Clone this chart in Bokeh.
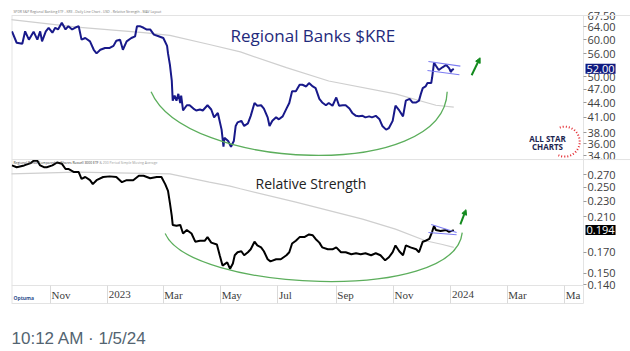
import pandas as pd
from bokeh.plotting import figure
from bokeh.models import (Range1d, FixedTicker, PrintfTickFormatter, Label, LabelSet,
                          Arrow, NormalHead, LogAxis, DatetimeAxis, LogScale, Span,
                          ColumnDataSource)
from bokeh.embed import file_html
from bokeh.resources import INLINE

# ---------------- data ----------------
kre_dates = ["2022-09-21", "2022-09-26", "2022-10-02", "2022-10-05", "2022-10-09", "2022-10-14",
             "2022-10-18", "2022-10-21", "2022-10-23", "2022-10-27", "2022-10-30", "2022-11-03",
             "2022-11-06", "2022-11-09", "2022-11-13", "2022-11-17", "2022-11-20", "2022-11-24",
             "2022-11-27", "2022-12-01", "2022-12-04", "2022-12-08", "2022-12-13", "2022-12-17",
             "2022-12-20", "2022-12-24", "2022-12-29", "2023-01-03", "2023-01-07", "2023-01-10",
             "2023-01-14", "2023-01-17", "2023-01-21", "2023-01-26", "2023-01-30", "2023-02-01",
             "2023-02-04", "2023-02-08", "2023-02-11", "2023-02-15", "2023-02-19", "2023-02-24",
             "2023-03-01", "2023-03-05", "2023-03-06", "2023-03-08", "2023-03-10", "2023-03-11",
             "2023-03-13", "2023-03-15", "2023-03-17", "2023-03-19", "2023-03-20", "2023-03-22",
             "2023-03-26", "2023-03-29", "2023-04-02", "2023-04-05", "2023-04-09", "2023-04-12",
             "2023-04-17", "2023-04-21", "2023-04-24", "2023-04-28", "2023-05-02", "2023-05-04",
             "2023-05-05", "2023-05-09", "2023-05-12", "2023-05-15", "2023-05-17", "2023-05-19",
             "2023-05-23", "2023-05-26", "2023-05-30", "2023-06-02", "2023-06-06", "2023-06-09",
             "2023-06-13", "2023-06-16", "2023-06-20", "2023-06-22", "2023-06-25", "2023-06-29",
             "2023-07-02", "2023-07-06", "2023-07-10", "2023-07-13", "2023-07-16", "2023-07-20",
             "2023-07-24", "2023-07-27", "2023-07-31", "2023-08-03", "2023-08-07", "2023-08-10",
             "2023-08-14", "2023-08-17", "2023-08-21", "2023-08-24", "2023-08-28", "2023-09-01",
             "2023-09-04", "2023-09-08", "2023-09-11", "2023-09-15", "2023-09-18", "2023-09-22",
             "2023-09-25", "2023-09-29", "2023-10-02", "2023-10-06", "2023-10-09", "2023-10-13",
             "2023-10-17", "2023-10-20", "2023-10-24", "2023-10-27", "2023-10-31", "2023-11-02",
             "2023-11-03", "2023-11-07", "2023-11-11", "2023-11-14", "2023-11-18", "2023-11-21",
             "2023-11-25", "2023-11-28", "2023-11-30", "2023-12-02", "2023-12-05", "2023-12-07",
             "2023-12-11", "2023-12-12", "2023-12-14", "2023-12-16", "2023-12-19", "2023-12-23",
             "2023-12-27", "2023-12-30", "2024-01-01", "2024-01-02", "2024-01-04"]
kre_close = [62.5, 59.1, 58.8, 62.5, 60.0, 62.4,
             60.0, 62.5, 59.5, 62.5, 63.6, 62.1,
             63.6, 63.1, 65.2, 63.1, 64.1, 63.1,
             63.6, 64.1, 60.0, 60.5, 59.5, 57.1,
             56.1, 57.1, 57.6, 57.6, 58.2, 59.7,
             60.0, 57.1, 59.5, 60.5, 61.0, 64.1,
             64.1, 63.6, 63.1, 63.1, 61.5, 61.0,
             60.5, 58.2, 56.1, 53.1, 49.1, 44.5,
             45.6, 44.5, 46.0, 44.0, 45.6, 42.4,
             43.5, 43.5, 42.8, 42.4, 42.6, 42.4,
             43.5, 42.6, 41.0, 41.9, 38.6, 35.5,
             37.1, 36.5, 35.5, 36.5, 39.3, 40.0,
             40.3, 39.3, 39.8, 41.3, 44.0, 43.4,
             43.5, 42.8, 41.0, 39.3, 40.3, 41.0,
             40.6, 41.2, 42.8, 44.0, 46.6, 46.6,
             48.1, 48.1, 47.7, 48.5, 47.7, 47.3,
             44.9, 44.1, 43.5, 44.0, 43.4, 45.2,
             43.4, 43.5, 43.5, 42.8, 41.9, 41.3,
             41.2, 41.3, 41.0, 41.2, 41.0, 41.3,
             40.6, 39.3, 38.6, 38.9, 40.3, 42.4,
             43.4, 42.4, 41.2, 44.5, 44.9, 44.1,
             44.1, 44.5, 46.0, 47.3, 47.7, 48.5,
             48.5, 49.9, 53.6, 52.8, 51.7, 52.4,
             53.0, 52.2, 51.2, 51.7, 52.0]

kre_ma_dates = ["2022-09-20", "2022-11-29", "2023-02-08", "2023-03-08", "2023-04-19", "2023-05-22",
                "2023-07-10", "2023-08-24", "2023-11-03", "2023-12-16", "2024-01-04"]
kre_ma = [66.2, 63.8, 62.1, 61.3, 58.6, 56.5, 52.3, 49.0, 46.0, 43.5, 43.1]

rs_dates = ["2022-09-21", "2022-09-26", "2022-10-04", "2022-10-11", "2022-10-14", "2022-10-18",
            "2022-10-21", "2022-10-25", "2022-10-28", "2022-11-03", "2022-11-08", "2022-11-13",
            "2022-11-17", "2022-11-20", "2022-11-26", "2022-12-01", "2022-12-04", "2022-12-08",
            "2022-12-13", "2022-12-16", "2022-12-20", "2022-12-27", "2023-01-03", "2023-01-10",
            "2023-01-16", "2023-01-21", "2023-01-28", "2023-02-03", "2023-02-08", "2023-02-15",
            "2023-02-22", "2023-02-27", "2023-03-03", "2023-03-06", "2023-03-08", "2023-03-10",
            "2023-03-11", "2023-03-15", "2023-03-19", "2023-03-22", "2023-03-26", "2023-03-31",
            "2023-04-04", "2023-04-09", "2023-04-14", "2023-04-17", "2023-04-21", "2023-04-27",
            "2023-04-30", "2023-05-03", "2023-05-08", "2023-05-11", "2023-05-14", "2023-05-16",
            "2023-05-19", "2023-05-23", "2023-05-26", "2023-05-30", "2023-06-02", "2023-06-06",
            "2023-06-09", "2023-06-13", "2023-06-16", "2023-06-20", "2023-06-23", "2023-06-29",
            "2023-07-04", "2023-07-10", "2023-07-13", "2023-07-16", "2023-07-20", "2023-07-24",
            "2023-07-29", "2023-08-03", "2023-08-07", "2023-08-10", "2023-08-14", "2023-08-17",
            "2023-08-23", "2023-08-28", "2023-09-01", "2023-09-06", "2023-09-11", "2023-09-17",
            "2023-09-22", "2023-09-27", "2023-10-02", "2023-10-08", "2023-10-13", "2023-10-18",
            "2023-10-23", "2023-10-27", "2023-10-31", "2023-11-03", "2023-11-07", "2023-11-11",
            "2023-11-14", "2023-11-19", "2023-11-25", "2023-11-28", "2023-12-02", "2023-12-05",
            "2023-12-09", "2023-12-12", "2023-12-14", "2023-12-16", "2023-12-21", "2023-12-27",
            "2023-12-30", "2024-01-02", "2024-01-04"]
rs_values = [0.285, 0.282, 0.285, 0.289, 0.293, 0.293,
             0.285, 0.282, 0.282, 0.285, 0.290, 0.288,
             0.279, 0.279, 0.274, 0.274, 0.263, 0.266,
             0.261, 0.255, 0.261, 0.266, 0.267, 0.266,
             0.258, 0.261, 0.261, 0.268, 0.268, 0.264,
             0.266, 0.266, 0.255, 0.245, 0.228, 0.211,
             0.200, 0.199, 0.200, 0.190, 0.194, 0.190,
             0.181, 0.182, 0.182, 0.186, 0.180, 0.178,
             0.167, 0.157, 0.160, 0.154, 0.159, 0.167,
             0.170, 0.171, 0.167, 0.170, 0.173, 0.181,
             0.177, 0.175, 0.171, 0.163, 0.161, 0.163,
             0.163, 0.167, 0.170, 0.179, 0.182, 0.186,
             0.186, 0.189, 0.188, 0.184, 0.180, 0.175,
             0.173, 0.173, 0.175, 0.170, 0.170, 0.168,
             0.169, 0.168, 0.169, 0.167, 0.169, 0.167,
             0.162, 0.165, 0.170, 0.177, 0.171, 0.167,
             0.177, 0.175, 0.173, 0.170, 0.181, 0.182,
             0.184, 0.192, 0.199, 0.194, 0.193, 0.194,
             0.192, 0.193, 0.194]

rs_ma_dates = ["2022-09-20", "2022-11-29", "2023-03-08", "2023-04-19", "2023-05-11", "2023-05-22",
               "2023-07-20", "2023-09-29", "2023-11-03", "2023-12-05", "2023-12-23", "2024-01-04"]
rs_ma = [0.271, 0.274, 0.271, 0.258, 0.252, 0.248, 0.229, 0.207, 0.195, 0.182, 0.178, 0.175]

kre_ticks = [34, 36, 38, 41, 44, 47, 50, 56, 60, 64, 67.5]
rs_ticks = [0.14, 0.15, 0.17, 0.21, 0.23, 0.25, 0.27]
x_tick_dates = ["2022-11-01", "2023-01-01", "2023-03-01", "2023-05-01", "2023-07-01",
                "2023-09-01", "2023-11-01", "2024-01-01", "2024-03-01", "2024-05-01"]
x_tick_labels = ["Nov", "2023", "Mar", "May", "Jul", "Sep", "Nov", "2024", "Mar", "Ma"]

kre_last, rs_last = 52.00, 0.194

# annotations drawn on the chart (cups, flags, arrows), in data terms
kre_cup = dict(start=("2023-02-16", 46.5), c1=("2023-03-24", 31.6), c2=("2023-12-25", 29.8), end=("2023-12-28", 46.5))
rs_cup = dict(start=("2023-03-03", 0.190), c1=("2023-03-29", 0.1353), c2=("2024-01-05", 0.1245), end=("2024-01-13", 0.191))
kre_flag = [(("2023-12-08", 53.9), ("2024-01-11", 52.7)), (("2023-12-07", 51.6), ("2024-01-10", 50.5))]
rs_flag = [(("2023-12-11", 0.2006), ("2024-01-07", 0.1912)), (("2023-12-08", 0.1912), ("2024-01-07", 0.1886))]
kre_arrow = (("2024-01-23", 50.4), ("2024-02-01", 54.9))
rs_arrow = (("2024-01-11", 0.2006), ("2024-01-17", 0.219))
logo_center = ("2024-05-01", 36.4)

# ---------------- layout constants ----------------
X_START, X_AXIS, X_END = "2022-09-20 12:00", "2024-05-21", "2024-07-10"
KRE_VIEW = (13.01, 72.70)       # whole canvas height, log scale
KRE_PANEL = (33.34, 67.55)      # top panel
RS_VIEW = (0.09415, 0.7606)
RS_PANEL = (0.1394, 0.2952)     # bottom panel
RS_STRIP_BOTTOM = 0.1253        # bottom of the date strip


def ms(d):
    return pd.Timestamp(d).value / 1e6


NAVY = "#18198a"
GREEN_CUP = "#5cae5c"
GREEN_ARROW = "#138a1e"
FLAG = "#7c7cf2"
MA_GRAY = "#cfcfcf"
EDGE = "#e3e3e3"
AXIS_FONT = "Open Sans"

p = figure(width=630, height=351, x_axis_type="datetime", y_axis_type="log",
           x_range=Range1d(ms(X_START), ms(X_END)), y_range=Range1d(*KRE_VIEW),
           x_axis_location=None, y_axis_location=None,
           output_backend="svg", toolbar_location=None,
           min_border=0, min_border_left=11, min_border_right=0,
           min_border_top=0, min_border_bottom=0)
p.extra_y_ranges = {"rs": Range1d(*RS_VIEW)}
p.extra_y_scales = {"rs": LogScale()}
p.xgrid.visible = False
p.ygrid.visible = False
p.outline_line_color = None
p.background_fill_color = "white"
p.border_fill_color = "white"


def style_right_axis(ax):
    ax.axis_line_color = EDGE
    ax.major_tick_line_color = "#9a9a9a"
    ax.major_tick_out = 3
    ax.major_tick_in = 0
    ax.minor_tick_line_color = None
    ax.major_label_standoff = 1
    ax.major_label_text_font = AXIS_FONT
    ax.major_label_text_font_size = "11px"
    ax.major_label_text_color = "#404040"


kre_axis = LogAxis(ticker=FixedTicker(ticks=kre_ticks), formatter=PrintfTickFormatter(format="%.2f"),
                   fixed_location=ms(X_AXIS), bounds=KRE_PANEL)
style_right_axis(kre_axis)
p.add_layout(kre_axis, "right")
rs_axis = LogAxis(y_range_name="rs", ticker=FixedTicker(ticks=rs_ticks),
                  formatter=PrintfTickFormatter(format="%.3f"),
                  fixed_location=ms(X_AXIS), bounds=RS_PANEL)
style_right_axis(rs_axis)
p.add_layout(rs_axis, "right")

tick_ms = [ms(d) for d in x_tick_dates]
date_axis = DatetimeAxis(y_range_name="rs", fixed_location=RS_PANEL[0],
                         ticker=FixedTicker(ticks=tick_ms), bounds=(ms(X_START), ms(X_AXIS)))
date_axis.axis_line_color = EDGE
date_axis.major_tick_line_color = "#dadada"
date_axis.major_tick_out = 18
date_axis.major_tick_in = 0
date_axis.minor_tick_line_color = None
date_axis.major_label_text_color = None
p.add_layout(date_axis, "below")

p.add_layout(LabelSet(x="x", y=57, y_units="screen", text="text", x_offset=1,
                      source=ColumnDataSource(dict(x=tick_ms, text=x_tick_labels)),
                      text_font=AXIS_FONT, text_font_size="11px", text_color="#404040",
                      text_align="left", text_baseline="middle"))

# panel frame lines
p.add_layout(Span(location=KRE_PANEL[1], dimension="width", line_color=EDGE, line_width=1))
p.add_layout(Span(location=KRE_PANEL[0], dimension="width", line_color=EDGE, line_width=1))
p.segment(x0=[ms(X_START)], y0=[RS_STRIP_BOTTOM], x1=[ms(X_AXIS)], y1=[RS_STRIP_BOTTOM],
          y_range_name="rs", line_color=EDGE, line_width=1)
p.segment(x0=[ms(X_START)], y0=[KRE_PANEL[0]], x1=[ms(X_START)], y1=[KRE_PANEL[1]],
          line_color=EDGE, line_width=2)
p.segment(x0=[ms(X_START)], y0=[RS_STRIP_BOTTOM], x1=[ms(X_START)], y1=[RS_PANEL[1]],
          y_range_name="rs", line_color=EDGE, line_width=2)
p.segment(x0=[ms(X_AXIS)], y0=[RS_STRIP_BOTTOM], x1=[ms(X_AXIS)], y1=[RS_PANEL[0]],
          y_range_name="rs", line_color=EDGE, line_width=1)

# ---- top panel: KRE ----
p.line(pd.to_datetime(kre_ma_dates), kre_ma, line_color=MA_GRAY, line_width=1.2)
p.line(pd.to_datetime(kre_dates), kre_close, line_color=NAVY, line_width=2)
p.bezier(x0=[ms(kre_cup["start"][0])], y0=[kre_cup["start"][1]],
         x1=[ms(kre_cup["end"][0])], y1=[kre_cup["end"][1]],
         cx0=[ms(kre_cup["c1"][0])], cy0=[kre_cup["c1"][1]],
         cx1=[ms(kre_cup["c2"][0])], cy1=[kre_cup["c2"][1]],
         line_color=GREEN_CUP, line_width=1.3)
p.segment(x0=[ms(a[0]) for a, b in kre_flag], y0=[a[1] for a, b in kre_flag],
          x1=[ms(b[0]) for a, b in kre_flag], y1=[b[1] for a, b in kre_flag],
          line_color=FLAG, line_width=1.1)
p.add_layout(Arrow(end=NormalHead(size=5, fill_color=GREEN_ARROW, line_color=GREEN_ARROW),
                   x_start=ms(kre_arrow[0][0]), y_start=kre_arrow[0][1],
                   x_end=ms(kre_arrow[1][0]), y_end=kre_arrow[1][1],
                   line_color=GREEN_ARROW, line_width=2))
p.arc(x=[ms(logo_center[0])], y=[logo_center[1]], radius=15, radius_units="screen",
      start_angle=-2.0, end_angle=2.0, line_color="#e3262c", line_width=2, line_dash="1 2")

# ---- bottom panel: relative strength ----
p.line(pd.to_datetime(rs_ma_dates), rs_ma, y_range_name="rs", line_color=MA_GRAY, line_width=1.2)
p.line(pd.to_datetime(rs_dates), rs_values, y_range_name="rs", line_color="black", line_width=2)
p.bezier(x0=[ms(rs_cup["start"][0])], y0=[rs_cup["start"][1]],
         x1=[ms(rs_cup["end"][0])], y1=[rs_cup["end"][1]],
         cx0=[ms(rs_cup["c1"][0])], cy0=[rs_cup["c1"][1]],
         cx1=[ms(rs_cup["c2"][0])], cy1=[rs_cup["c2"][1]],
         y_range_name="rs", line_color=GREEN_CUP, line_width=1.3)
p.segment(x0=[ms(a[0]) for a, b in rs_flag], y0=[a[1] for a, b in rs_flag],
          x1=[ms(b[0]) for a, b in rs_flag], y1=[b[1] for a, b in rs_flag],
          y_range_name="rs", line_color=FLAG, line_width=1.1)
p.add_layout(Arrow(end=NormalHead(size=5, fill_color=GREEN_ARROW, line_color=GREEN_ARROW),
                   x_start=ms(rs_arrow[0][0]), y_start=rs_arrow[0][1],
                   x_end=ms(rs_arrow[1][0]), y_end=rs_arrow[1][1], y_range_name="rs",
                   line_color=GREEN_ARROW, line_width=2))

# ---- texts ----
def add_label(text, x, y, size, color, **kw):
    p.add_layout(Label(x=x, y=y, x_units="screen", y_units=kw.pop("y_units", "screen"),
                       text=text, text_font=kw.pop("font", AXIS_FONT), text_font_size=size,
                       text_color=color, text_baseline="middle", **kw))


add_label("SPDR S&P Regional Banking ETF - KRE - Daily Line Chart - USD - Relative Strength - MAV Layout",
          2, 340, "3.4px", "#777777")
add_label("Regional Banks $KRE", 219, 316, "17px", "#1f2a7c")
add_label("ALL STAR", 536, 213, "8px", "#1b2550", text_font_style="bold", text_align="center")
add_label("CHARTS", 536, 205, "8px", "#1b2550", text_font_style="bold", text_align="center")
add_label("Regional Banks Compared to iShares Russell 3000 ETF", 2, 189, "3.4px", "#333333")
add_label("& 200 Period Simple Moving Average", 88, 189, "3.4px", "#999999")
add_label("Relative Strength", 244, 168, "14px", "#222222")
add_label("Optuma", 2, 54, "5px", "#2b4f8c", text_font_style="bold")
add_label("10:12 AM · 1/5/24", 0, 13, "17px", "#536471", font="Liberation Sans")

p.add_layout(Label(x=574, y=kre_last, x_units="screen", y_units="data",
                   text="%.2f" % kre_last, text_font=AXIS_FONT, text_font_size="11px",
                   text_color="white", background_fill_color="#0f1a80",
                   text_baseline="middle", padding=1))
p.add_layout(Label(x=574, y=rs_last, x_units="screen", y_units="data", y_range_name="rs",
                   text="%.3f" % rs_last, text_font=AXIS_FONT, text_font_size="11px",
                   text_color="white", background_fill_color="black",
                   text_baseline="middle", padding=1))

open("out.html", "w").write(file_html(p, INLINE))
